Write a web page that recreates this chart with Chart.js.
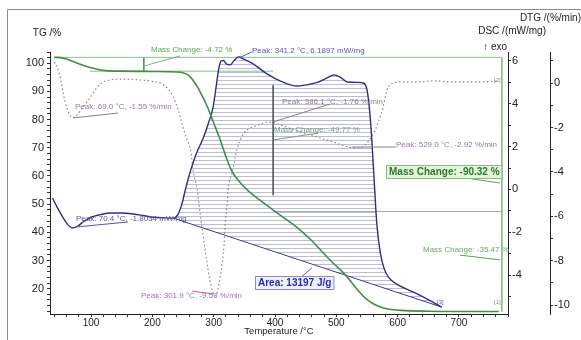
<!DOCTYPE html>
<html>
<head>
<meta charset="utf-8">
<script src="https://cdn.jsdelivr.net/npm/chart.js@4.4.1/dist/chart.umd.min.js"></script>
<style>
html, body { margin: 0; padding: 0; background: #fff; }
#wrap { width: 581px; height: 340px; position: relative; }
</style>
</head>
<body>
<div id="wrap"><canvas id="tga"></canvas></div>
<script>
// axis ranges
const tempRange = [33, 780];
const tgRange = [11, 104];
const dscRange = [-5.82, 6.42];
const dtgRange = [-10.4, 1.4];

// TG curve, mass in %
const tgTemp = [40, 50, 60, 70, 80, 90, 100, 110, 125, 150, 200, 240, 250, 260, 270, 280, 290, 300, 310, 320, 330, 340, 355, 375, 397, 420, 441, 460, 479, 495, 512, 525, 535, 545, 556, 567, 577, 590, 605, 650, 700, 765];
const tgMass = [102.1, 102.0, 101.5, 100.7, 99.8, 99.0, 98.4, 97.9, 97.4, 97.2, 97.1, 96.9, 96.6, 95.5, 92.8, 89.0, 84.4, 78.8, 73.2, 66.8, 61.5, 58.5, 55.0, 51.5, 47.9, 44.3, 40.8, 37.0, 32.6, 29.0, 25.5, 22.2, 19.5, 17.1, 15.2, 13.9, 13.1, 12.6, 12.3, 12.0, 11.9, 11.9];

// DSC curve, mW/mg
const dscTemp = [37, 45, 55, 63, 70, 78, 88, 100, 115, 131, 150, 169, 185, 202, 220, 234, 242, 248, 253, 258, 263, 272, 283, 292, 299, 304, 308, 312, 316, 321, 327, 334, 341, 348, 365, 387, 410, 436, 455, 469, 484, 496, 506, 518, 535, 545, 551, 556, 561, 566, 572, 578, 585, 600, 626, 650, 672];
const dscFlow = [-0.40, -0.85, -1.35, -1.68, -1.80, -1.72, -1.50, -1.30, -1.18, -1.10, -1.10, -1.15, -1.22, -1.30, -1.33, -1.34, -1.15, -0.70, -0.10, 0.45, 0.95, 1.70, 2.40, 3.15, 3.85, 4.80, 5.60, 6.00, 6.02, 5.85, 5.82, 6.05, 6.19, 6.10, 5.85, 5.40, 5.05, 4.83, 4.90, 5.00, 5.20, 5.35, 5.25, 5.02, 5.00, 4.96, 4.50, 3.10, 0.80, -1.60, -3.00, -3.70, -4.10, -4.45, -4.80, -5.15, -5.50];

// DTG curve, %/min
const dtgTemp = [40, 45, 50, 57, 63, 69, 75, 87, 100, 110, 120, 131, 150, 180, 200, 213, 225, 234, 242, 250, 256, 262, 267, 273, 278, 283, 288, 294, 298, 302, 306, 310, 314, 317, 319, 322, 324, 330, 338, 346, 355, 373, 386, 397, 420, 440, 458, 477, 495, 510, 523, 529, 540, 550, 561, 568, 576, 584, 593, 605, 630, 660, 690, 720, 765];
const dtgRate = [0.95, 0.70, 0.20, -0.77, -1.30, -1.55, -1.50, -1.08, -0.60, -0.18, 0.05, 0.14, 0.18, 0.14, 0.08, 0.00, -0.25, -0.63, -1.20, -2.00, -2.50, -3.00, -4.00, -4.80, -5.90, -6.90, -7.90, -8.90, -9.35, -9.59, -9.40, -8.80, -8.10, -7.20, -6.30, -5.40, -4.70, -4.05, -3.00, -2.40, -2.10, -1.90, -1.76, -1.78, -2.00, -2.18, -2.35, -2.50, -2.65, -2.80, -2.90, -2.92, -2.90, -2.70, -2.25, -1.80, -1.10, -0.20, 0.00, 0.05, 0.05, 0.10, 0.05, 0.05, 0.08];

// DSC peak integration baseline
const baseTemp = [234, 672];
const baseFlow = [-1.34, -5.50];

// mass change steps (TG levels and where their guide lines run)
const massLevels = [102.1, 97.2, 47.4];
const massLevelFrom = [40, 98, 397];
const massLevelTo = [770, 397, 770];
const massEndTemp = 770;
const massFinal = 11.9;
const stepArrowTemp = [186, 397];
const stepArrowTop = [102.1, 92.2];
const stepArrowBottom = [97.2, 53.2];

const FONT = "'Liberation Sans', Arial, sans-serif";

// annotation texts, anchored in data coordinates
const notes = [
    { text: 'Mass Change: -4.72 %', axis: 'yTG', t: 198, v: 104.7, color: '#5a9f5a' },
    { text: 'Peak: 341.2 °C, 6.1897 mW/mg', axis: 'yDSC', t: 362, v: 6.47, color: '#5656a6' },
    { text: 'Peak: 69.0 °C, -1.55 %/min', axis: 'yDTG', t: 74, v: -1.08, color: '#98789f' },
    { text: 'Peak: 386.1 °C, -1.76 %/min', axis: 'yDTG', t: 411, v: -0.85, color: '#98789f' },
    { text: 'Mass Change: -49.77 %', axis: 'yTG', t: 398, v: 76.3, color: '#7a9a7a' },
    { text: 'Peak: 529.0 °C, -2.92 %/min', axis: 'yDTG', t: 597, v: -2.79, color: '#98789f' },
    { text: 'Mass Change: -90.32 %', axis: 'yTG', t: 586, v: 61.4, color: '#2b7a2b', bold: true, size: 10, box: '#e4f3da', edge: '#86bf86' },
    { text: 'Peak: 70.4 °C, -1.8034 mW/mg', axis: 'yDSC', t: 75, v: -1.38, color: '#5656a6' },
    { text: 'Peak: 301.9 °C, -9.59 %/min', axis: 'yDTG', t: 181, v: -9.59, color: '#98789f' },
    { text: 'Area: 13197 J/g', axis: 'yDSC', t: 372, v: -4.37, color: '#2a2aa8', bold: true, size: 10, box: '#eef0ff', edge: '#8a8acc' },
    { text: 'Mass Change: -35.47 %', axis: 'yTG', t: 641, v: 33.7, color: '#6aa56a' },
    { text: '[3]', axis: 'yDSC', t: 664, v: -5.26, color: '#5656a6', size: 6 },
    { text: '[1]', axis: 'yTG', t: 757, v: 15.3, color: '#6aa56a', size: 6 },
    { text: '[2]', axis: 'yDTG', t: 757, v: 0.14, color: '#98789f', size: 6 }
];

const leaders = [
    { axis: 'yTG', from: [186, 99.0], to: [245, 102.6], color: '#7ab57a' },
    { axis: 'yDSC', from: [341, 6.14], to: [362, 6.42], color: '#5656a6' },
    { axis: 'yDTG', from: [70.5, -1.57], to: [144, -1.35], color: '#8a7a94' },
    { axis: 'yDTG', from: [397, -1.75], to: [490, -0.94], color: '#8a7a94' },
    { axis: 'yTG', from: [397, 72.8], to: [470, 75.2], color: '#7a9a7a' },
    { axis: 'yDTG', from: [525, -2.88], to: [597, -2.88], color: '#8a7a94' },
    { axis: 'yTG', from: [689, 60.0], to: [767, 57.5], color: '#5a9f5a' },
    { axis: 'yDSC', from: [74, -1.76], to: [160, -1.52], color: '#5656a6' },
    { axis: 'yDTG', from: [300, -9.5], to: [265, -9.37], color: '#c06060' },
    { axis: 'yDSC', from: [441, -4.14], to: [460, -3.67], color: '#5656a6' },
    { axis: 'yTG', from: [702, 31.9], to: [767, 30.2], color: '#5a9f5a' }
];

const pts = (xs, ys) => xs.map((x, i) => ({ x: x, y: ys[i] }));

const canvas = document.getElementById('tga');
const ctx0 = canvas.getContext('2d');

// horizontal hatch used for the integrated DSC area
function makeHatch() {
    const c = document.createElement('canvas');
    c.width = 8; c.height = 4;
    const g = c.getContext('2d');
    g.fillStyle = 'rgba(95,95,160,0.42)';
    g.fillRect(0, 0, 8, 1);
    return ctx0.createPattern(c, 'repeat');
}

const hatchStart = dscTemp.indexOf(baseTemp[0]);

const lineDefaults = { pointRadius: 0, borderWidth: 1, fill: false, tension: 0 };

const datasets = [
    Object.assign({}, lineDefaults, { label: 'TG', data: pts(tgTemp, tgMass), yAxisID: 'yTG', borderColor: '#3f903f', borderWidth: 1.6, cubicInterpolationMode: 'monotone' }),
    Object.assign({}, lineDefaults, { label: 'DSC', data: pts(dscTemp, dscFlow), yAxisID: 'yDSC', borderColor: '#2e2e86', borderWidth: 1.4, cubicInterpolationMode: 'monotone' }),
    Object.assign({}, lineDefaults, { label: 'DTG', data: pts(dtgTemp, dtgRate), yAxisID: 'yDTG', borderColor: '#8d7f98', borderWidth: 1.2, borderDash: [1.5, 2.5], cubicInterpolationMode: 'monotone' }),
    Object.assign({}, lineDefaults, { label: 'Baseline', data: pts(baseTemp, baseFlow), yAxisID: 'yDSC', borderColor: '#3a3a90' }),
    Object.assign({}, lineDefaults, { label: 'Area', data: pts(dscTemp.slice(hatchStart), dscFlow.slice(hatchStart)), yAxisID: 'yDSC', borderWidth: 0, cubicInterpolationMode: 'monotone', fill: 3, backgroundColor: makeHatch() })
];

// mass change guide lines
massLevels.forEach((lv, i) => {
    datasets.push(Object.assign({}, lineDefaults, { label: 'level' + i, data: [{ x: massLevelFrom[i], y: lv }, { x: massLevelTo[i], y: lv }], yAxisID: 'yTG', borderColor: i === 2 ? '#9ab09a' : '#86c386' }));
});
datasets.push(Object.assign({}, lineDefaults, { label: 'end', data: [{ x: massEndTemp, y: massLevels[0] }, { x: massEndTemp, y: massFinal }], yAxisID: 'yTG', borderColor: '#86c386' }));
stepArrowTemp.forEach((t, i) => {
    datasets.push(Object.assign({}, lineDefaults, { label: 'step' + i, data: [{ x: t, y: stepArrowTop[i] }, { x: t, y: stepArrowBottom[i] }], yAxisID: 'yTG', borderColor: i === 0 ? '#4f9a4f' : '#555' }));
});

const decor = {
    id: 'decor',
    beforeDraw(chart) {
        const { ctx } = chart;
        ctx.save();
        ctx.strokeStyle = '#8c8c8c';
        ctx.lineWidth = 1;
        ctx.beginPath();
        ctx.moveTo(7.5, 340);
        ctx.lineTo(7.5, 9.5);
        ctx.lineTo(581, 9.5);
        ctx.stroke();
        ctx.restore();
    },
    afterDatasetsDraw(chart) {
        const { ctx, scales, chartArea } = chart;
        const at = (axis, t, v) => [scales.x.getPixelForValue(t), scales[axis].getPixelForValue(v)];
        ctx.save();
        ctx.lineWidth = 1;
        leaders.forEach(l => {
            const a = at(l.axis, l.from[0], l.from[1]);
            const b = at(l.axis, l.to[0], l.to[1]);
            ctx.strokeStyle = l.color;
            ctx.beginPath();
            ctx.moveTo(a[0], a[1]);
            ctx.lineTo(b[0], b[1]);
            ctx.stroke();
        });
        ctx.textBaseline = 'middle';
        ctx.textAlign = 'left';
        notes.forEach(n => {
            const p = at(n.axis, n.t, n.v);
            const x = Math.round(p[0]), y = Math.round(p[1]);
            ctx.font = (n.bold ? 'bold ' : '') + (n.size || 8) + 'px ' + FONT;
            if (n.box) {
                const w = ctx.measureText(n.text).width;
                ctx.fillStyle = n.box;
                ctx.fillRect(x - 2, y - 6, w + 4, 12);
                ctx.strokeStyle = n.edge;
                ctx.strokeRect(x - 2.5, y - 6.5, w + 5, 13);
            }
            ctx.fillStyle = n.color;
            ctx.fillText(n.text, x, y);
        });

        // axis headers
        ctx.fillStyle = '#222';
        ctx.font = '10px ' + FONT;
        ctx.textAlign = 'center';
        ctx.fillText('TG /%', chartArea.left - 3, chartArea.top - 19);
        ctx.textAlign = 'right';
        ctx.fillText('DSC /(mW/mg)', scales.yDSC.right - 4, chartArea.top - 21);
        ctx.fillText('DTG /(%/min)', scales.yDTG.right, chartArea.top - 34);
        ctx.fillText('\u2191 exo', scales.yDSC.left - 1, chartArea.top - 5);
        ctx.restore();
    }
};

const axisGrid = { drawOnChartArea: false, drawTicks: true, tickLength: 3, color: '#333' };
const axisBorder = { display: true, color: '#222', width: 1 };

new Chart(canvas, {
    type: 'line',
    data: { datasets: datasets },
    plugins: [decor],
    options: {
        responsive: true,
        maintainAspectRatio: false,
        animation: false,
        devicePixelRatio: 1,
        layout: { padding: { top: 52, left: 0, right: 0, bottom: 0 } },
        plugins: { legend: { display: false }, tooltip: { enabled: false } },
        scales: {
            x: {
                type: 'linear', position: 'bottom', min: tempRange[0], max: tempRange[1],
                ticks: { stepSize: 20, autoSkip: false, maxRotation: 0, includeBounds: false, color: '#222', padding: 0, font: { size: 10, family: FONT },
                    callback: v => (v % 100 === 0 ? String(v) : '') },
                grid: axisGrid, border: axisBorder,
                title: { display: true, text: 'Temperature /°C', color: '#222', font: { size: 9.5, family: FONT }, padding: { top: 0, bottom: 3 } },
                afterFit: s => { s.height = 26; }
            },
            yTG: {
                position: 'left', min: tgRange[0], max: tgRange[1],
                ticks: { stepSize: 2, autoSkip: false, includeBounds: false, color: '#222', padding: 3, font: { size: 11, family: FONT },
                    callback: v => (v % 10 === 0 ? String(v) : '') },
                grid: axisGrid, border: axisBorder,
                afterFit: s => { s.width = 50; }
            },
            yDSC: {
                position: 'right', min: dscRange[0], max: dscRange[1],
                ticks: { stepSize: 1, autoSkip: false, includeBounds: false, color: '#222', padding: 1, font: { size: 11, family: FONT },
                    callback: v => (v % 2 === 0 ? String(v) : '') },
                grid: axisGrid, border: axisBorder,
                afterFit: s => { s.width = 42; }
            },
            yDTG: {
                position: 'right', min: dtgRange[0], max: dtgRange[1],
                ticks: { stepSize: 1, autoSkip: false, includeBounds: false, color: '#222', padding: 1, font: { size: 11, family: FONT },
                    callback: v => (v % 2 === 0 ? String(v) : '') },
                grid: axisGrid, border: axisBorder,
                afterFit: s => { s.width = 31; }
            }
        }
    }
});
</script>
</body>
</html>
